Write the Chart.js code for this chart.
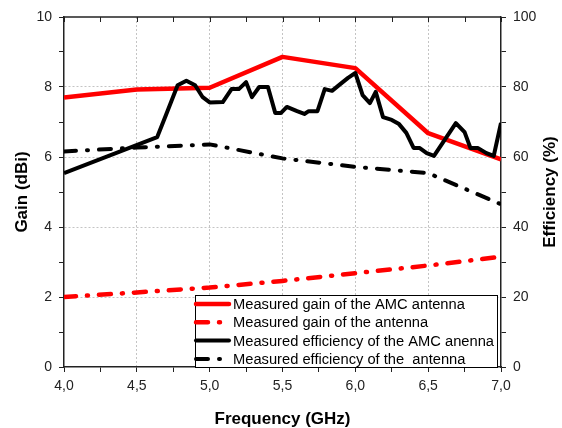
<!DOCTYPE html>
<html>
<head>
<meta charset="utf-8">
<script src="https://cdn.jsdelivr.net/npm/chart.js@4.4.1/dist/chart.umd.min.js"></script>
<style>
html, body { margin: 0; padding: 0; background: #fff; }
</style>
</head>
<body>
<canvas id="gainChart" width="562" height="428"></canvas>
<script>
// frequencies (GHz) of the coarse measurements
const freq = [4.0, 4.5, 5.0, 5.5, 6.0, 6.5, 7.0];
const gainAmc = [7.7, 7.93, 7.98, 8.86, 8.54, 6.68, 5.93];
const gainAnt = [2.0, 2.13, 2.27, 2.46, 2.68, 2.9, 3.15];
const effAnt = [61.6, 62.7, 63.6, 59.6, 57.2, 55.4, 46.5];

// efficiency of the AMC antenna, finer sweep
const effAmcFreq = [4.0, 4.64, 4.7, 4.78, 4.84, 4.9, 4.95, 5.0, 5.09, 5.15, 5.2, 5.25, 5.29, 5.34, 5.4,
    5.45, 5.49, 5.53, 5.6, 5.65, 5.68, 5.74, 5.79, 5.84, 5.89, 5.95, 6.0, 6.05, 6.1, 6.14, 6.19,
    6.25, 6.3, 6.35, 6.4, 6.44, 6.49, 6.54, 6.69, 6.75, 6.79, 6.84, 6.9, 6.95, 7.0];
const effAmc = [55.4, 65.7, 72.0, 80.5, 81.8, 80.5, 77.2, 75.6, 75.7, 79.4, 79.4, 81.4, 77.1, 80.0, 80.0,
    72.6, 72.6, 74.3, 73.1, 72.3, 73.1, 73.1, 79.4, 78.9, 80.6, 82.6, 84.0, 77.7, 75.4, 78.6, 71.4,
    70.6, 69.4, 66.9, 62.6, 62.6, 61.1, 60.3, 69.7, 67.1, 62.6, 62.6, 61.1, 60.3, 69.7];

const seriesLabels = [
    'Measured gain of the AMC antenna',
    'Measured gain of the antenna',
    'Measured efficiency of the AMC anenna',
    'Measured efficiency of the  antenna'
];

const FONT = "'Liberation Sans', Arial, sans-serif";
const DASHDOT = [12, 11, 1, 11];

function pts(xs, ys) {
    return xs.map((x, i) => ({ x: x, y: ys[i] }));
}

const framePlugin = {
    id: 'frame',
    afterDraw(chart) {
        const { ctx, chartArea: a, scales } = chart;
        ctx.save();
        // top border with inward ticks
        ctx.strokeStyle = '#222';
        ctx.lineWidth = 1.5;
        ctx.beginPath();
        ctx.moveTo(a.left, a.top);
        ctx.lineTo(a.right, a.top);
        ctx.stroke();
        ctx.lineWidth = 1;
        scales.x.ticks.forEach(t => {
            const px = Math.round(scales.x.getPixelForValue(t.value)) + 0.5;
            ctx.beginPath();
            ctx.moveTo(px, a.top);
            ctx.lineTo(px, a.top + 5);
            ctx.stroke();
        });

        // right axis title, reading upwards
        ctx.save();
        ctx.translate(550.5, (a.top + a.bottom) / 2);
        ctx.rotate(-Math.PI / 2);
        ctx.font = 'bold 17px ' + FONT;
        ctx.fillStyle = '#000';
        ctx.textAlign = 'center';
        ctx.textBaseline = 'middle';
        ctx.fillText('Efficiency (%)', 0, 0);
        ctx.restore();

        // legend box
        const bx = 195, by = 295, bw = a.right - 4 - bx, bh = a.bottom - by;
        ctx.fillStyle = '#fff';
        ctx.fillRect(bx, by, bw, bh);
        ctx.strokeStyle = '#000';
        ctx.lineWidth = 1;
        ctx.strokeRect(bx + 0.5, by + 0.5, bw, bh);
        ctx.font = '14.7px ' + FONT;
        ctx.textAlign = 'left';
        ctx.textBaseline = 'middle';
        seriesLabels.forEach((label, i) => {
            const ds = chart.data.datasets.find(d => d.label === label);
            const y = by + 9 + i * 18.3;
            ctx.strokeStyle = ds.borderColor;
            ctx.lineWidth = ds.borderWidth;
            ctx.lineCap = 'round';
            ctx.setLineDash(ds.borderDash || []);
            ctx.beginPath();
            ctx.moveTo(bx + 1, y);
            ctx.lineTo(bx + 34, y);
            ctx.stroke();
            ctx.setLineDash([]);
            ctx.fillStyle = '#000';
            ctx.fillText(label, bx + 38, y + 1);
        });
        ctx.restore();
    }
};

const ctx = document.getElementById('gainChart').getContext('2d');
new Chart(ctx, {
    type: 'line',
    data: {
        datasets: [
            { label: seriesLabels[0], data: pts(freq, gainAmc), yAxisID: 'y', borderColor: '#ff0000',
              borderWidth: 4.5, order: 2 },
            { label: seriesLabels[1], data: pts(freq, gainAnt), yAxisID: 'y', borderColor: '#ff0000',
              borderWidth: 4.5, borderDash: DASHDOT, borderCapStyle: 'round', order: 3 },
            { label: seriesLabels[2], data: pts(effAmcFreq, effAmc), yAxisID: 'y2', borderColor: '#000',
              borderWidth: 4, order: 0 },
            { label: seriesLabels[3], data: pts(freq, effAnt), yAxisID: 'y2', borderColor: '#000',
              borderWidth: 4, borderDash: DASHDOT, borderCapStyle: 'round', order: 1 }
        ]
    },
    options: {
        responsive: false,
        animation: false,
        devicePixelRatio: 1,
        elements: {
            point: { radius: 0 },
            line: { tension: 0, borderJoinStyle: 'round', fill: false }
        },
        layout: { padding: { top: 17, left: 0, right: 0, bottom: 0 } },
        plugins: { legend: { display: false }, tooltip: { enabled: false } },
        scales: {
            x: {
                type: 'linear',
                min: 4, max: 7,
                afterFit: s => { s.height = 61; },
                ticks: {
                    stepSize: 0.25, autoSkip: false, maxRotation: 0, padding: 6,
                    color: '#222', font: { family: FONT, size: 14 },
                    callback: v => Number.isInteger(v * 2) ? v.toFixed(1).replace('.', ',') : ''
                },
                grid: {
                    color: c => (c.tick && Number.isInteger(c.tick.value * 2) && c.tick.value > 4 && c.tick.value < 7) ? '#c4c4c4' : 'rgba(0,0,0,0)',
                    tickColor: '#222', tickLength: 5, lineWidth: 1
                },
                border: { color: '#222', width: 1.5, dash: [2, 2] },
                title: {
                    display: true, text: 'Frequency (GHz)', color: '#000',
                    font: { family: FONT, size: 17, weight: 'bold' }, padding: { top: 0, bottom: -2 }
                }
            },
            y: {
                position: 'left',
                min: 0, max: 10,
                afterFit: s => { s.width = 64; },
                ticks: {
                    stepSize: 1, autoSkip: false, padding: 7,
                    color: '#222', font: { family: FONT, size: 14 },
                    callback: v => v % 2 === 0 ? v : ''
                },
                grid: {
                    color: c => (c.tick && c.tick.value % 2 === 0 && c.tick.value > 0 && c.tick.value < 10) ? '#c4c4c4' : 'rgba(0,0,0,0)',
                    tickColor: '#222', tickLength: 5, lineWidth: 1
                },
                border: { color: '#222', width: 1.5, dash: [2, 2] },
                title: {
                    display: true, text: 'Gain (dBi)', color: '#000',
                    font: { family: FONT, size: 17, weight: 'bold' }, padding: { top: 12, bottom: 0 }
                }
            },
            y2: {
                position: 'right',
                min: 0, max: 100,
                afterFit: s => { s.width = 61; },
                ticks: {
                    stepSize: 10, autoSkip: false, padding: 7,
                    color: '#222', font: { family: FONT, size: 14 },
                    callback: v => v % 20 === 0 ? v : ''
                },
                grid: { drawOnChartArea: false, tickColor: '#222', tickLength: 5 },
                border: { color: '#222', width: 1.5 }
            }
        }
    },
    plugins: [framePlugin]
});
</script>
</body>
</html>
